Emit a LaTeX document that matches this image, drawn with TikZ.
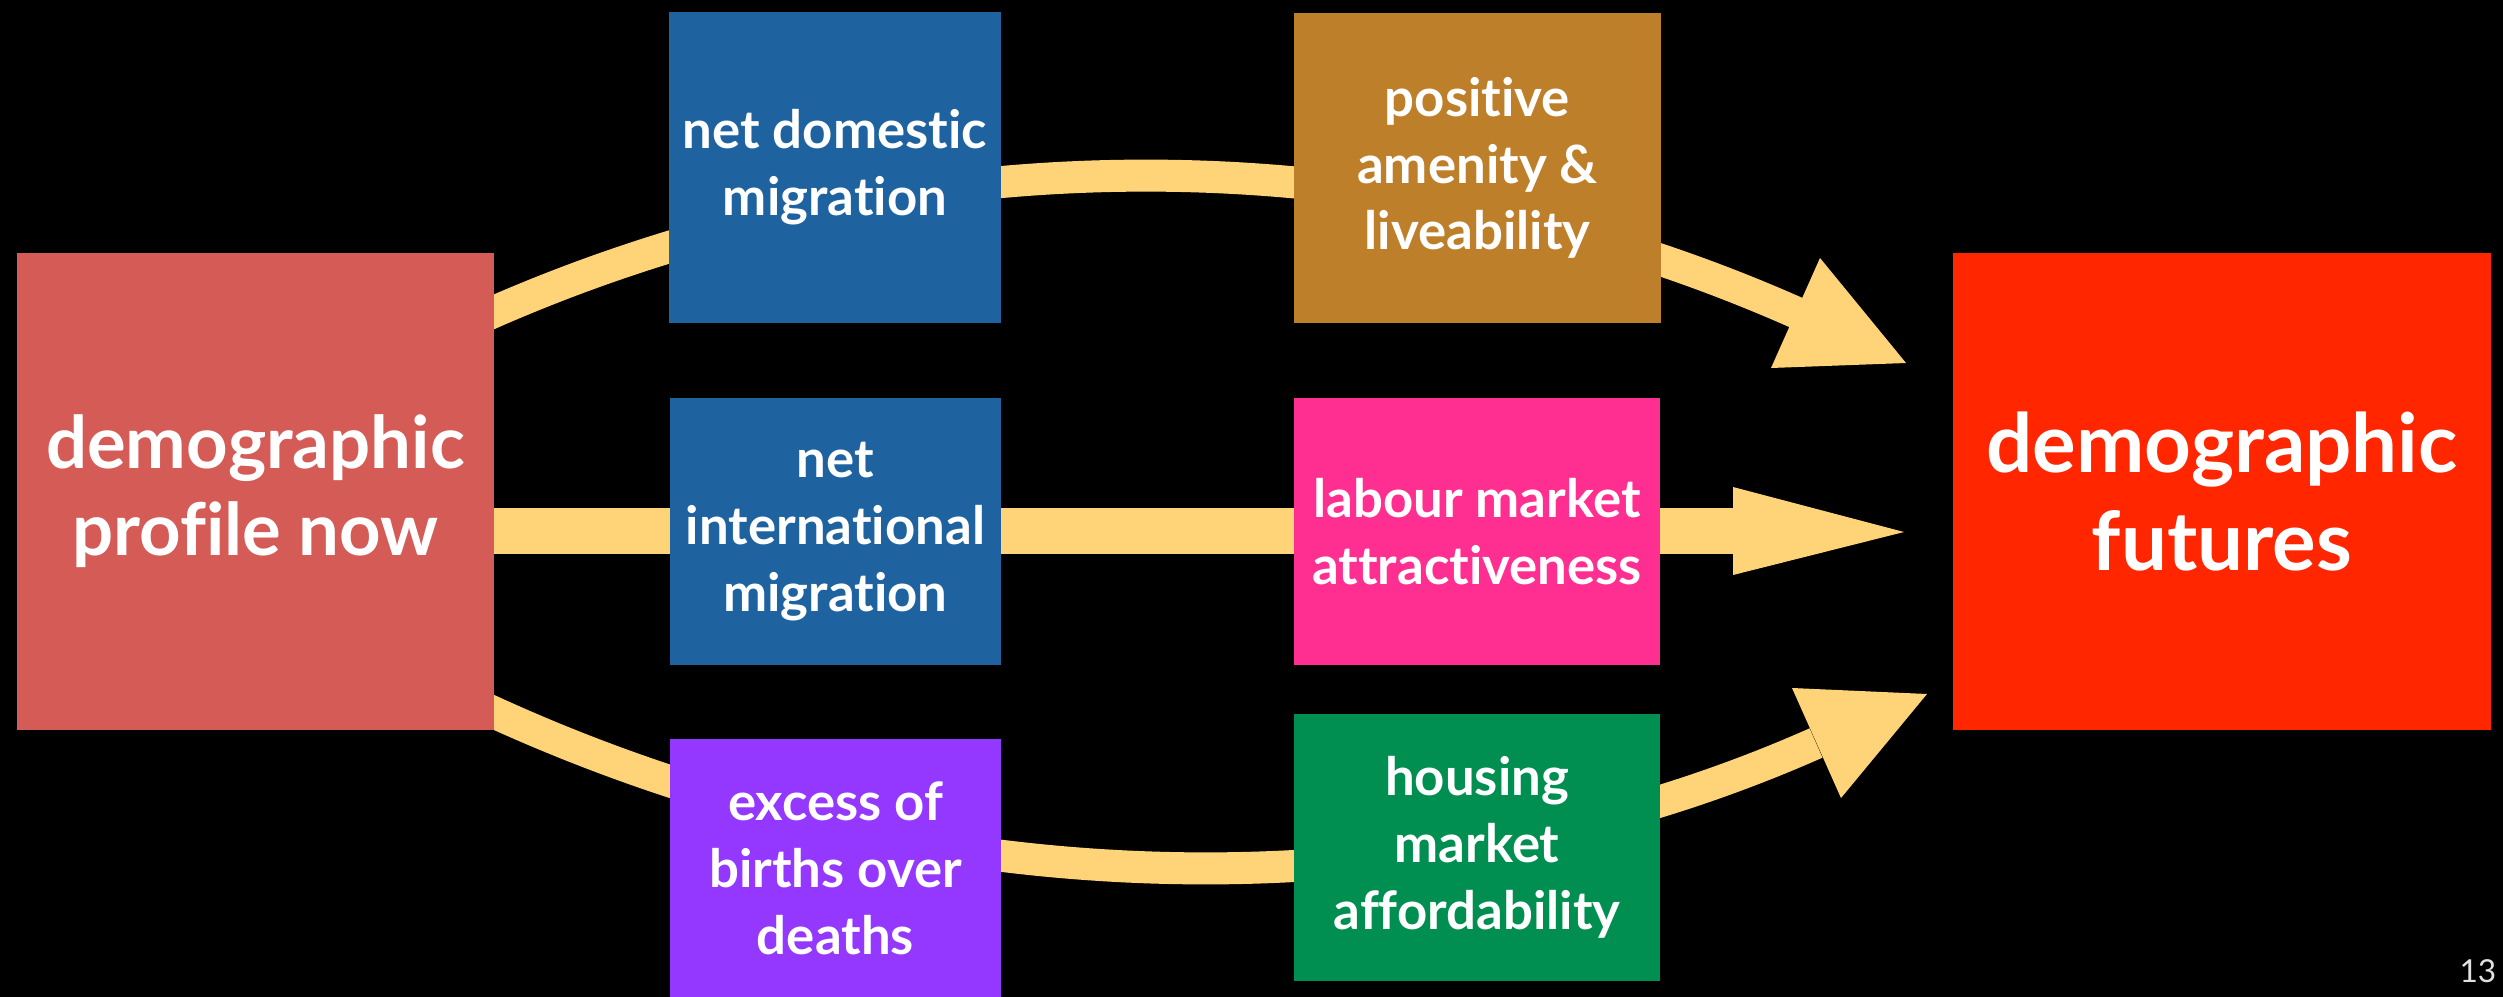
\documentclass[tikz,border=0pt]{standalone}
\usepackage{fontspec}
\setmainfont{Lato}[Ligatures=NoCommon]
\definecolor{nowc}{RGB}{212,91,86}
\definecolor{bluec}{RGB}{30,99,159}
\definecolor{brownc}{RGB}{189,127,42}
\definecolor{pinkc}{RGB}{255,47,145}
\definecolor{purplec}{RGB}{148,55,255}
\definecolor{greenc}{RGB}{0,143,81}
\definecolor{futc}{RGB}{255,38,0}
\definecolor{arrowc}{RGB}{255,212,121}
\begin{document}
\begin{tikzpicture}[x=0.01cm,y=-0.01cm,
  box/.style={rectangle, inner sep=0pt, align=center, text=white,
    font=\bfseries\fontsize{15}{19}\selectfont},
  bigL/.style={font=\bfseries\fontsize{20.6}{24.75}\selectfont},
  bigR/.style={font=\bfseries\fontsize{23.2}{27.9}\selectfont},
  shaft/.style={draw=arrowc, line width=0.32cm},
  headc/.style={fill=arrowc}]
\fill[black] (0,0) rectangle (2503,997);
\useasboundingbox (0,0) rectangle (2503,997);
% top arrow
\coordinate (t0) at (480,318);
\coordinate (t1) at (900,130);
\coordinate (t2) at (1380,128);
\coordinate (t3) at (1797,313);
\coordinate (tA) at (1820,258);
\coordinate (tT) at (1906,363);
\coordinate (tB) at (1771,368);
\draw[shaft] (t0) .. controls (t1) and (t2) .. (t3);
\fill[headc] (tA) -- (tT) -- (tB) -- cycle;
% middle arrow
\coordinate (m0) at (480,531);
\coordinate (m3) at (1733,531);
\coordinate (mA) at (1733,487);
\coordinate (mT) at (1904,532);
\coordinate (mB) at (1733,575);
\draw[shaft, line width=0.46cm] (m0) -- (m3);
\fill[headc] (mA) -- (mT) -- (mB) -- cycle;
% bottom arrow
\coordinate (b0) at (480,706);
\coordinate (b1) at (897,900.6);
\coordinate (b2) at (1395.6,929.3);
\coordinate (b3) at (1816,743);
\coordinate (bA) at (1792,688);
\coordinate (bT) at (1927,694);
\coordinate (bB) at (1841,798);
\draw[shaft] (b0) .. controls (b1) and (b2) .. (b3);
\fill[headc] (bA) -- (bT) -- (bB) -- cycle;
% boxes
\node[box, bigL, fill=nowc, minimum width=4.77cm, minimum height=4.77cm] (now) at (255.5,491.5) {demographic\\profile now};
\node[box, fill=bluec, minimum width=3.32cm, minimum height=3.11cm] (dom) at (835,167.5) {net domestic\\migration};
\node[box, fill=bluec, minimum width=3.31cm, minimum height=2.67cm] (intl) at (835.5,531.5) {net\\international\\migration};
\node[box, fill=purplec, minimum width=3.31cm, minimum height=2.58cm] (births) at (835.5,868) {excess of\\births over\\deaths};
\node[box, fill=brownc, minimum width=3.67cm, minimum height=3.10cm] (amen) at (1477.5,168) {positive\\amenity \&\\liveability};
\node[box, fill=pinkc, minimum width=3.66cm, minimum height=2.67cm] (labour) at (1477,531.5) {labour market\\attractiveness};
\node[box, fill=greenc, minimum width=3.66cm, minimum height=2.67cm] (housing) at (1477,847.5) {housing\\market\\affordability};
\node[box, bigR, fill=futc, minimum width=5.38cm, minimum height=4.77cm] (fut) at (2222,491.5) {demographic\\futures};
\node[anchor=base east, inner sep=0pt, text=white!88!black, font=\fontsize{9}{10}\selectfont] (pg) at (2497,982) {13};
\end{tikzpicture}
\end{document}
